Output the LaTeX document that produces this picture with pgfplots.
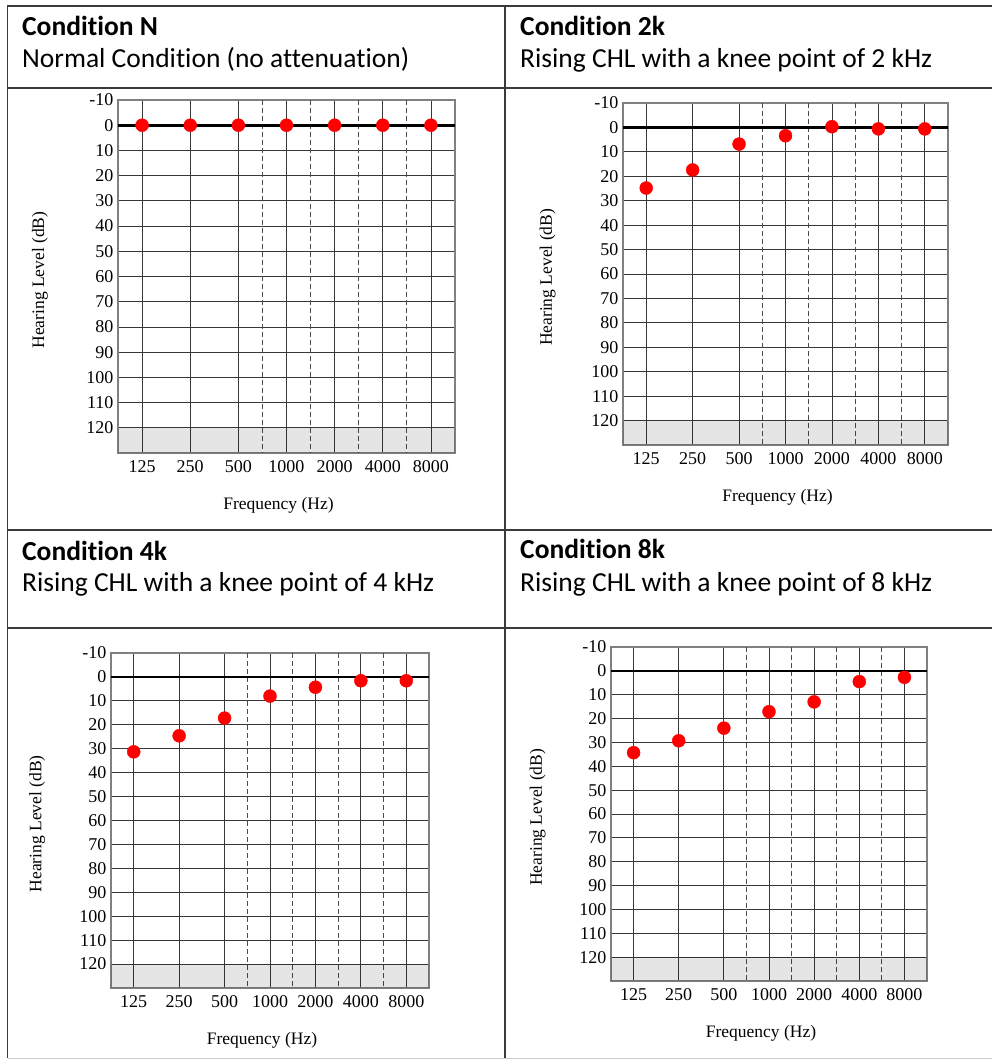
\documentclass[border=0pt]{standalone}
\usepackage{fontspec}
\setmainfont{Carlito}[Ligatures={NoCommon}]
\newfontfamily\tnr{Liberation Serif}
\usepackage{pgfplots}
\pgfplotsset{compat=1.18}
\definecolor{tbl}{HTML}{3A3A3A}
\definecolor{dotred}{HTML}{FF0000}
\pgfplotsset{
  aud/.style={
    scale only axis, anchor=north west,
    xmin=-0.5, xmax=6.5, ymin=-10, ymax=130, y dir=reverse,
    xtick={0,...,6}, xticklabels={125,250,500,1000,2000,4000,8000},
    ytick={-10,0,10,...,120},
    extra x ticks={2.5,3.5,4.5,5.5}, extra x tick labels={},
    extra x tick style={grid=major, major grid style={draw=black!70, line width=0.8pt, dash pattern=on 5pt off 3pt}},
    grid=major,
    major grid style={draw=black!78, line width=0.8pt},
    axis line style={draw=black!50, line width=1.2pt},
    major tick length=0pt,
    tick style={draw=none},
    tick label style={font=\tnr\fontsize{18}{18}\selectfont},
    /pgf/number format/assume math mode=true,
    xticklabel style={anchor=center, yshift=-14pt},
    yticklabel style={xshift=-1pt},
    xlabel={Frequency (Hz)}, ylabel={Hearing Level (dB)},
    label style={font=\tnr\fontsize{17.5}{18}\selectfont},
    xlabel style={at={(axis description cs:0.5,0)}, anchor=center, yshift=-52pt, xshift=-8pt},
    ylabel style={at={(axis description cs:-0.232,0.49)}, anchor=center},
  },
  bandfill/.style={fill=black, fill opacity=0.1, draw=none},
  zeroline/.style={black, line width=2.6pt},
  dots/.style={only marks, mark=*, mark size=6.5pt, mark options={fill=dotred, draw=dotred}},
}
\begin{document}
\begin{tikzpicture}
\path (0pt,0pt) rectangle (992pt,-1059pt);
% table lines
\draw[tbl, line width=1.6pt] (992pt,-6pt) -- (7.5pt,-6pt) -- (7.5pt,-1058pt);
\draw[black!20, line width=1pt] (7.5pt,-1058pt) -- (992pt,-1058pt);
\draw[tbl, line width=1.6pt] (505pt,-6pt) -- (505pt,-1058pt);
\draw[tbl, line width=1.6pt] (7.5pt,-88pt) -- (992pt,-88pt);
\draw[tbl, line width=1.6pt] (7.5pt,-530pt) -- (992pt,-530pt);
\draw[tbl, line width=1.6pt] (7.5pt,-628pt) -- (992pt,-628pt);
% headers
\begin{scope}[every node/.style={anchor=base west, inner sep=0pt, font=\fontsize{27.5}{30}\selectfont}]
\node at (22pt,-36pt) {\bfseries Condition N};
\node at (22pt,-68pt) {Normal Condition (no attenuation)};
\node at (520pt,-36pt) {\bfseries Condition 2k};
\node at (520pt,-68pt) {Rising CHL with a knee point of 2 kHz};
\node at (22pt,-560pt) {\bfseries Condition 4k};
\node at (22pt,-591pt) {Rising CHL with a knee point of 4 kHz};
\node at (520pt,-558pt) {\bfseries Condition 8k};
\node at (520pt,-591pt) {Rising CHL with a knee point of 8 kHz};
\end{scope}
% Panel N
\begin{axis}[aud, at={(118pt,-100pt)}, width=337pt, height=353pt]
\addplot[bandfill] coordinates {(-0.5,120) (6.5,120) (6.5,130) (-0.5,130) (-0.5,120)};
\addplot[zeroline] coordinates {(-0.5,0) (6.5,0)};
\addplot[dots] coordinates {(0,0) (1,0) (2,0) (3,0) (4,0) (5,0) (6,0)};
\end{axis}
% Panel 2k
\begin{axis}[aud, at={(623pt,-103pt)}, width=325pt, height=342pt]
\addplot[bandfill] coordinates {(-0.5,120) (6.5,120) (6.5,130) (-0.5,130) (-0.5,120)};
\addplot[zeroline] coordinates {(-0.5,0) (6.5,0)};
\addplot[dots] coordinates {(0,24.8) (1,17.4) (2,6.8) (3,3.4) (4,-0.3) (5,0.6) (6,0.6)};
\end{axis}
% Panel 4k
\begin{axis}[aud, at={(111pt,-653pt)}, width=318pt, height=335pt]
\addplot[bandfill] coordinates {(-0.5,120) (6.5,120) (6.5,130) (-0.5,130) (-0.5,120)};
\addplot[zeroline] coordinates {(-0.5,0) (6.5,0)};
\addplot[dots] coordinates {(0,31.3) (1,24.6) (2,17.2) (3,8.0) (4,4.3) (5,1.6) (6,1.6)};
\end{axis}
% Panel 8k
\begin{axis}[aud, at={(611pt,-647pt)}, width=316pt, height=334pt]
\addplot[bandfill] coordinates {(-0.5,120) (6.5,120) (6.5,130) (-0.5,130) (-0.5,120)};
\addplot[zeroline] coordinates {(-0.5,0) (6.5,0)};
\addplot[dots] coordinates {(0,34.3) (1,29.3) (2,24.0) (3,17.1) (4,13.0) (5,4.5) (6,2.7)};
\end{axis}
\end{tikzpicture}
\end{document}
